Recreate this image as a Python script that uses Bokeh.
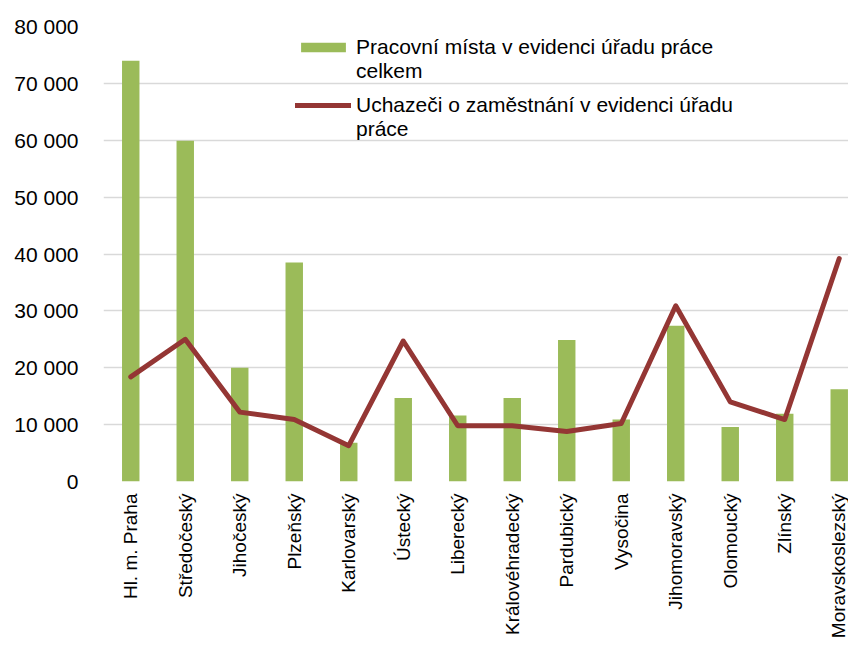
from bokeh.plotting import figure
from bokeh.models import Range1d, FixedTicker, Legend, LegendItem, ColumnDataSource
from bokeh.embed import file_html
from bokeh.resources import INLINE

regions = ["Hl. m. Praha", "Středočeský", "Jihočeský", "Plzeňský", "Karlovarský",
           "Ústecký", "Liberecký", "Královéhradecký", "Pardubický", "Vysočina",
           "Jihomoravský", "Olomoucký", "Zlínský", "Moravskoslezský"]
vacancies = [74000, 59900, 20000, 38500, 6800, 14700, 11600, 14700, 24900, 10900,
             27400, 9600, 11900, 16200]
applicants = [18400, 25000, 12200, 10900, 6300, 24700, 9800, 9800, 8800, 10200,
              30900, 14000, 10900, 39200]
y_ticks = [0, 10000, 20000, 30000, 40000, 50000, 60000, 70000, 80000]
y_tick_labels = ["0", "10 000", "20 000", "30 000", "40 000", "50 000", "60 000",
                 "70 000", "80 000"]
series_names = ["Pracovní místa v evidenci úřadu práce\ncelkem",
                "Uchazeči o zaměstnání v evidenci úřadu\npráce"]

FONT = "Liberation Sans"
idx = list(range(len(regions)))
src = ColumnDataSource(dict(x=idx, vac=vacancies, app=applicants))

p = figure(width=848, height=641, output_backend="svg", toolbar_location=None,
           x_range=Range1d(-0.5, 13.17), y_range=Range1d(0, 80000),
           min_border_left=103, min_border_right=0, min_border_top=26,
           min_border_bottom=0)
p.outline_line_color = None
p.background_fill_color = "white"

bars = p.vbar(x="x", top="vac", width=0.32, source=src, fill_color="#9BBB59",
              line_color=None)
line = p.line(x="x", y="app", source=src, line_color="#943634", line_width=5,
              line_join="round", line_cap="round")

p.xaxis.ticker = FixedTicker(ticks=idx)
p.xaxis.major_label_overrides = {i: r for i, r in enumerate(regions)}
p.xaxis.major_label_orientation = 1.5707963
p.xaxis.major_label_text_font = FONT
p.xaxis.major_label_text_font_size = "19px"
p.xaxis.major_label_text_color = "#000000"
p.xaxis.major_label_standoff = 6
p.xaxis.axis_line_color = None
p.xaxis.major_tick_line_color = None
p.xaxis.minor_tick_line_color = None

p.yaxis.ticker = FixedTicker(ticks=y_ticks)
p.yaxis.major_label_overrides = {t: l for t, l in zip(y_ticks, y_tick_labels)}
p.yaxis.major_label_text_font = FONT
p.yaxis.major_label_text_font_size = "21px"
p.yaxis.major_label_text_color = "#000000"
p.yaxis.major_label_standoff = 19
p.yaxis.axis_line_color = None
p.yaxis.major_tick_line_color = None
p.yaxis.minor_tick_line_color = None

p.xgrid.grid_line_color = None
p.ygrid.grid_line_color = "#D9D9D9"
p.ygrid.grid_line_width = 1.5

legend_style = dict(background_fill_alpha=0, border_line_color=None,
                    label_text_font=FONT, label_text_font_size="21px",
                    label_text_color="#000000", glyph_width=56, glyph_height=12,
                    spacing=0, padding=0, margin=0, label_standoff=5,
                    label_text_line_height=1.2)
# leading blank line keeps the swatch level with the first text line
legend1 = Legend(items=[LegendItem(label="\n" + series_names[0], renderers=[bars])],
                 location=(192, 398), **legend_style)
legend2 = Legend(items=[LegendItem(label="\n" + series_names[1], renderers=[line])],
                 location=(192, 340), **legend_style)
p.add_layout(legend1, "center")
p.add_layout(legend2, "center")

open("out.html", "w").write(file_html(p, INLINE))
